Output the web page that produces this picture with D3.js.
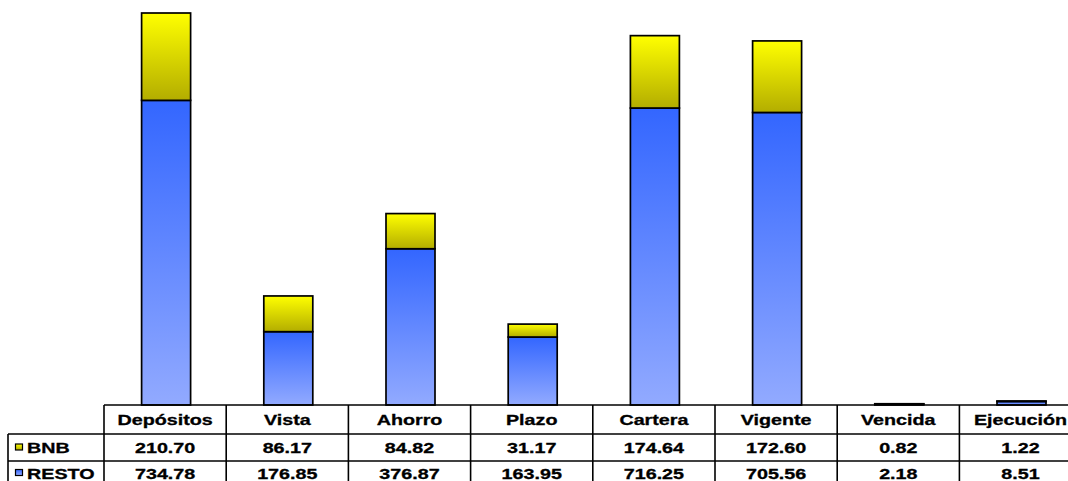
<!DOCTYPE html>
<html>
<head>
<meta charset="utf-8">
<script src="https://cdn.jsdelivr.net/npm/d3@7"></script>
<style>
  body { margin: 0; background: #fff; }
  text { font-family: "Liberation Sans", Arial, sans-serif; font-weight: bold; font-size: 14.5px; fill: #000; stroke: #000; stroke-width: 0.3px; }
</style>
</head>
<body>
<div id="chart"></div>
<script>
var w = 1068, h = 481;

// data
var categories = ["Depósitos", "Vista", "Ahorro", "Plazo", "Cartera", "Vigente", "Vencida", "Ejecución"];
var bnb   = [210.70, 86.17, 84.82, 31.17, 174.64, 172.60, 0.82, 1.22];
var resto = [734.78, 176.85, 376.87, 163.95, 716.25, 705.56, 2.18, 8.51];
var seriesNames = ["BNB", "RESTO"];

var baseY = 405;
var tableLeft = 104, colW = 122.2;
var rowTops = [405, 434, 461, 488];

var svg = d3.select("#chart")
  .append("svg")
  .attr("width", w)
  .attr("height", h);

var defs = svg.append("defs");
var gY = defs.append("linearGradient").attr("id", "gradBnb")
  .attr("x1", 0).attr("y1", 0).attr("x2", 0).attr("y2", 1);
gY.append("stop").attr("offset", "0%").attr("stop-color", "#ffff00");
gY.append("stop").attr("offset", "100%").attr("stop-color", "#b3ad00");
var gB = defs.append("linearGradient").attr("id", "gradResto")
  .attr("x1", 0).attr("y1", 0).attr("x2", 0).attr("y2", 1);
gB.append("stop").attr("offset", "0%").attr("stop-color", "#3366ff");
gB.append("stop").attr("offset", "100%").attr("stop-color", "#92aaff");

var x = d3.scaleBand()
  .domain(categories)
  .range([tableLeft, tableLeft + colW * categories.length])
  .padding(0);

var y = d3.scaleLinear()
  .domain([0, 1000])
  .range([baseY, baseY - 414.6]);

var barW = 49;
var fills = ["url(#gradResto)", "url(#gradBnb)"];

var stackData = categories.map(function(c, i) {
  return {cat: c, resto: resto[i], bnb: bnb[i]};
});
var stacked = d3.stack().keys(["resto", "bnb"])(stackData);

svg.selectAll(".layer")
  .data(stacked)
  .enter()
  .append("g")
  .attr("class", "layer")
  .style("fill", function(d, i) { return fills[i]; })
  .selectAll("rect")
  .data(function(d) { return d; })
  .enter()
  .append("rect")
  .attr("x", function(d) { return x(d.data.cat) + x.bandwidth() / 2 - barW / 2 + 1; })
  .attr("width", barW)
  .attr("y", function(d) { return y(d[1]); })
  .attr("height", function(d) { return Math.max(0, y(d[0]) - y(d[1])); })
  .style("stroke", "#000")
  .style("stroke-width", 1.7);

// table
var tbl = svg.append("g").style("stroke", "#000").style("stroke-width", 1.6);
tbl.append("path").attr("d", "M" + tableLeft + "," + rowTops[0] + " H" + w);
tbl.append("path").attr("d", "M8," + rowTops[1] + " H" + w);
tbl.append("path").attr("d", "M8," + rowTops[2] + " H" + w);
tbl.append("path").attr("d", "M8," + rowTops[1] + " V" + h);
tbl.selectAll(".vline")
  .data(d3.range(categories.length + 1))
  .enter()
  .append("path")
  .attr("d", function(d) { return "M" + (tableLeft + colW * d) + "," + rowTops[0] + " V" + h; });

function addText(g, str, cx, by, anchor) {
  g.append("text")
    .attr("transform", "translate(" + cx + "," + by + ") scale(1.36,1)")
    .attr("text-anchor", anchor || "middle")
    .text(str);
}

var txt = svg.append("g");
categories.forEach(function(c, i) {
  var cx = x(c) + x.bandwidth() / 2;
  addText(txt, c, cx, 425);
  addText(txt, bnb[i].toFixed(2), cx, 453);
  addText(txt, resto[i].toFixed(2), cx, 478.5);
});

// legend keys in row labels
var legFills = ["url(#gradBnb)", "url(#gradResto)"];
seriesNames.forEach(function(s, i) {
  var by = i === 0 ? 453 : 478.5;
  svg.append("rect")
    .attr("x", 15.5).attr("y", by - 9)
    .attr("width", 7).attr("height", 6)
    .style("fill", legFills[i])
    .style("stroke", "#000")
    .style("stroke-width", 1.2);
  addText(txt, s, 27, by, "start");
});
</script>
</body>
</html>
